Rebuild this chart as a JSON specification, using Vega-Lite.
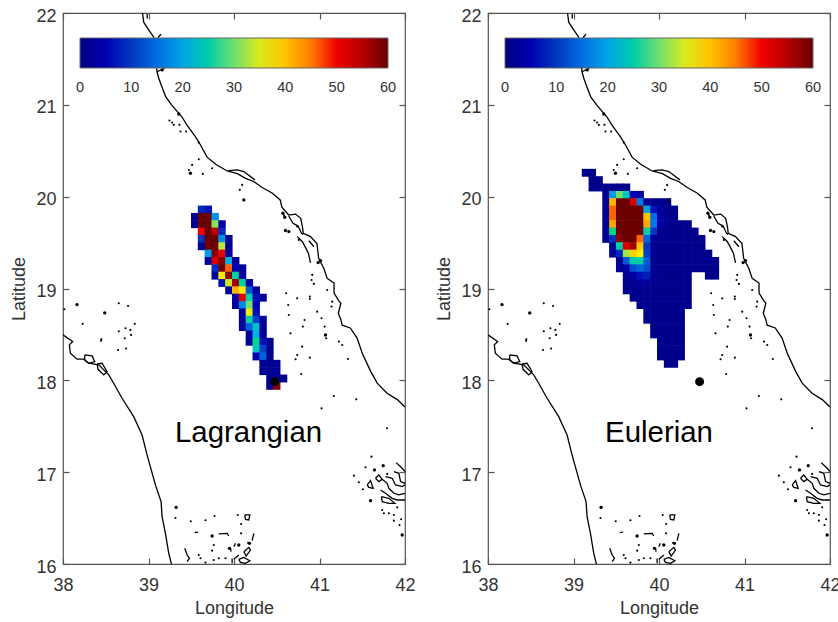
{"$schema":"https://vega.github.io/schema/vega-lite/v6.json","background":"white","padding":{"left":10,"top":6,"right":0,"bottom":0},"bounds":"flush","spacing":83,"config":{"view":{"stroke":"#555555","strokeWidth":1.2},"font":"Liberation Sans"},"resolve":{"scale":{"color":"independent"}},
"datasets":{
"lag":[
{"lon":39.62,"lat":19.86,"v":8},{"lon":39.70,"lat":19.86,"v":6},
{"lon":39.54,"lat":19.78,"v":2},{"lon":39.62,"lat":19.78,"v":60},{"lon":39.70,"lat":19.78,"v":60},{"lon":39.78,"lat":19.78,"v":18},
{"lon":39.54,"lat":19.70,"v":2},{"lon":39.62,"lat":19.70,"v":60},{"lon":39.70,"lat":19.70,"v":60},{"lon":39.78,"lat":19.70,"v":31},{"lon":39.86,"lat":19.70,"v":4},
{"lon":39.62,"lat":19.62,"v":50},{"lon":39.70,"lat":19.62,"v":60},{"lon":39.78,"lat":19.62,"v":55},{"lon":39.86,"lat":19.62,"v":8},
{"lon":39.62,"lat":19.54,"v":9},{"lon":39.70,"lat":19.54,"v":60},{"lon":39.78,"lat":19.54,"v":60},{"lon":39.86,"lat":19.54,"v":18},{"lon":39.94,"lat":19.54,"v":2},
{"lon":39.62,"lat":19.46,"v":3},{"lon":39.70,"lat":19.46,"v":60},{"lon":39.78,"lat":19.46,"v":60},{"lon":39.86,"lat":19.46,"v":33},{"lon":39.94,"lat":19.46,"v":2},
{"lon":39.70,"lat":19.38,"v":19},{"lon":39.78,"lat":19.38,"v":58},{"lon":39.86,"lat":19.38,"v":50},{"lon":39.94,"lat":19.38,"v":3},
{"lon":39.70,"lat":19.30,"v":3},{"lon":39.78,"lat":19.30,"v":52},{"lon":39.86,"lat":19.30,"v":58},{"lon":39.94,"lat":19.30,"v":21},{"lon":40.02,"lat":19.30,"v":3},
{"lon":39.78,"lat":19.22,"v":9},{"lon":39.86,"lat":19.22,"v":60},{"lon":39.94,"lat":19.22,"v":47},{"lon":40.02,"lat":19.22,"v":5},{"lon":40.10,"lat":19.22,"v":3},
{"lon":39.78,"lat":19.14,"v":3},{"lon":39.86,"lat":19.14,"v":37},{"lon":39.94,"lat":19.14,"v":58},{"lon":40.02,"lat":19.14,"v":26},{"lon":40.10,"lat":19.14,"v":3},
{"lon":39.86,"lat":19.06,"v":6},{"lon":39.94,"lat":19.06,"v":34},{"lon":40.02,"lat":19.06,"v":56},{"lon":40.10,"lat":19.06,"v":26},{"lon":40.18,"lat":19.06,"v":3},
{"lon":39.94,"lat":18.98,"v":3},{"lon":40.02,"lat":18.98,"v":41},{"lon":40.10,"lat":18.98,"v":37},{"lon":40.18,"lat":18.98,"v":13},{"lon":40.26,"lat":18.98,"v":3},
{"lon":40.02,"lat":18.90,"v":4},{"lon":40.10,"lat":18.90,"v":51},{"lon":40.18,"lat":18.90,"v":25},{"lon":40.26,"lat":18.90,"v":6},{"lon":40.34,"lat":18.90,"v":3},
{"lon":40.02,"lat":18.82,"v":3},{"lon":40.10,"lat":18.82,"v":17},{"lon":40.18,"lat":18.82,"v":30},{"lon":40.26,"lat":18.82,"v":5},
{"lon":40.10,"lat":18.74,"v":3},{"lon":40.18,"lat":18.74,"v":36},{"lon":40.26,"lat":18.74,"v":6},
{"lon":40.10,"lat":18.66,"v":3},{"lon":40.18,"lat":18.66,"v":25},{"lon":40.26,"lat":18.66,"v":11},{"lon":40.34,"lat":18.66,"v":3},
{"lon":40.10,"lat":18.58,"v":3},{"lon":40.18,"lat":18.58,"v":14},{"lon":40.26,"lat":18.58,"v":23},{"lon":40.34,"lat":18.58,"v":3},
{"lon":40.18,"lat":18.50,"v":3},{"lon":40.26,"lat":18.50,"v":21},{"lon":40.34,"lat":18.50,"v":3},
{"lon":40.18,"lat":18.42,"v":3},{"lon":40.26,"lat":18.42,"v":28},{"lon":40.34,"lat":18.42,"v":6},{"lon":40.42,"lat":18.42,"v":2},
{"lon":40.26,"lat":18.34,"v":24},{"lon":40.34,"lat":18.34,"v":11},{"lon":40.42,"lat":18.34,"v":2},
{"lon":40.26,"lat":18.26,"v":5},{"lon":40.34,"lat":18.26,"v":14},{"lon":40.42,"lat":18.26,"v":2},
{"lon":40.34,"lat":18.18,"v":2},{"lon":40.42,"lat":18.18,"v":2},{"lon":40.50,"lat":18.18,"v":2},
{"lon":40.34,"lat":18.10,"v":2},{"lon":40.42,"lat":18.10,"v":2},{"lon":40.50,"lat":18.10,"v":2},
{"lon":40.42,"lat":18.02,"v":2},{"lon":40.50,"lat":18.02,"v":2},{"lon":40.58,"lat":18.02,"v":2},
{"lon":40.42,"lat":17.94,"v":2},{"lon":40.50,"lat":17.94,"v":58}
],
"eul":[
{"lon":39.14,"lat":20.26,"v":1.5},{"lon":39.22,"lat":20.26,"v":1.5},
{"lon":39.22,"lat":20.18,"v":1.5},{"lon":39.30,"lat":20.18,"v":1.5},
{"lon":39.22,"lat":20.10,"v":1.5},{"lon":39.30,"lat":20.10,"v":1.5},{"lon":39.38,"lat":20.10,"v":1.5},{"lon":39.46,"lat":20.10,"v":1.5},{"lon":39.54,"lat":20.10,"v":1.5},{"lon":39.62,"lat":20.10,"v":1.5},
{"lon":39.38,"lat":20.02,"v":2},{"lon":39.46,"lat":20.02,"v":19},{"lon":39.54,"lat":20.02,"v":30},{"lon":39.62,"lat":20.02,"v":24},{"lon":39.70,"lat":20.02,"v":5},{"lon":39.78,"lat":20.02,"v":3},
{"lon":39.38,"lat":19.94,"v":2},{"lon":39.46,"lat":19.94,"v":41},{"lon":39.54,"lat":19.94,"v":60},{"lon":39.62,"lat":19.94,"v":60},{"lon":39.70,"lat":19.94,"v":52},{"lon":39.78,"lat":19.94,"v":16},{"lon":39.86,"lat":19.94,"v":2},{"lon":39.94,"lat":19.94,"v":1.5},{"lon":40.02,"lat":19.94,"v":1.5},{"lon":40.10,"lat":19.94,"v":1.5},
{"lon":39.38,"lat":19.86,"v":2},{"lon":39.46,"lat":19.86,"v":47},{"lon":39.54,"lat":19.86,"v":60},{"lon":39.62,"lat":19.86,"v":60},{"lon":39.70,"lat":19.86,"v":60},{"lon":39.78,"lat":19.86,"v":60},{"lon":39.86,"lat":19.86,"v":20},{"lon":39.94,"lat":19.86,"v":6},{"lon":40.02,"lat":19.86,"v":3},{"lon":40.10,"lat":19.86,"v":1.5},{"lon":40.18,"lat":19.86,"v":1.5},
{"lon":39.38,"lat":19.78,"v":2},{"lon":39.46,"lat":19.78,"v":47},{"lon":39.54,"lat":19.78,"v":60},{"lon":39.62,"lat":19.78,"v":60},{"lon":39.70,"lat":19.78,"v":60},{"lon":39.78,"lat":19.78,"v":60},{"lon":39.86,"lat":19.78,"v":40},{"lon":39.94,"lat":19.78,"v":15},{"lon":40.02,"lat":19.78,"v":4},{"lon":40.10,"lat":19.78,"v":1.5},{"lon":40.18,"lat":19.78,"v":1.5},
{"lon":39.38,"lat":19.70,"v":2},{"lon":39.46,"lat":19.70,"v":42},{"lon":39.54,"lat":19.70,"v":60},{"lon":39.62,"lat":19.70,"v":60},{"lon":39.70,"lat":19.70,"v":60},{"lon":39.78,"lat":19.70,"v":60},{"lon":39.86,"lat":19.70,"v":42},{"lon":39.94,"lat":19.70,"v":16},{"lon":40.02,"lat":19.70,"v":4},{"lon":40.10,"lat":19.70,"v":1.5},{"lon":40.18,"lat":19.70,"v":1.5},{"lon":40.26,"lat":19.70,"v":1.5},{"lon":40.34,"lat":19.70,"v":1.5},
{"lon":39.38,"lat":19.62,"v":2},{"lon":39.46,"lat":19.62,"v":28},{"lon":39.54,"lat":19.62,"v":60},{"lon":39.62,"lat":19.62,"v":60},{"lon":39.70,"lat":19.62,"v":60},{"lon":39.78,"lat":19.62,"v":60},{"lon":39.86,"lat":19.62,"v":25},{"lon":39.94,"lat":19.62,"v":10},{"lon":40.02,"lat":19.62,"v":2},{"lon":40.10,"lat":19.62,"v":1.5},{"lon":40.18,"lat":19.62,"v":1.5},{"lon":40.26,"lat":19.62,"v":1.5},{"lon":40.34,"lat":19.62,"v":1.5},{"lon":40.42,"lat":19.62,"v":1.5},
{"lon":39.38,"lat":19.54,"v":2},{"lon":39.46,"lat":19.54,"v":9},{"lon":39.54,"lat":19.54,"v":58},{"lon":39.62,"lat":19.54,"v":60},{"lon":39.70,"lat":19.54,"v":60},{"lon":39.78,"lat":19.54,"v":47},{"lon":39.86,"lat":19.54,"v":14},{"lon":39.94,"lat":19.54,"v":3},{"lon":40.02,"lat":19.54,"v":1.5},{"lon":40.10,"lat":19.54,"v":1.5},{"lon":40.18,"lat":19.54,"v":1.5},{"lon":40.26,"lat":19.54,"v":1.5},{"lon":40.34,"lat":19.54,"v":1.5},{"lon":40.42,"lat":19.54,"v":1.5},{"lon":40.50,"lat":19.54,"v":1.5},
{"lon":39.46,"lat":19.46,"v":2},{"lon":39.54,"lat":19.46,"v":25},{"lon":39.62,"lat":19.46,"v":52},{"lon":39.70,"lat":19.46,"v":56},{"lon":39.78,"lat":19.46,"v":40},{"lon":39.86,"lat":19.46,"v":10},{"lon":39.94,"lat":19.46,"v":2},{"lon":40.02,"lat":19.46,"v":1.5},{"lon":40.10,"lat":19.46,"v":1.5},{"lon":40.18,"lat":19.46,"v":1.5},{"lon":40.26,"lat":19.46,"v":1.5},{"lon":40.34,"lat":19.46,"v":1.5},{"lon":40.42,"lat":19.46,"v":1.5},{"lon":40.50,"lat":19.46,"v":1.5},
{"lon":39.46,"lat":19.38,"v":2},{"lon":39.54,"lat":19.38,"v":8},{"lon":39.62,"lat":19.38,"v":32},{"lon":39.70,"lat":19.38,"v":39},{"lon":39.78,"lat":19.38,"v":37},{"lon":39.86,"lat":19.38,"v":11},{"lon":39.94,"lat":19.38,"v":2},{"lon":40.02,"lat":19.38,"v":1.5},{"lon":40.10,"lat":19.38,"v":1.5},{"lon":40.18,"lat":19.38,"v":1.5},{"lon":40.26,"lat":19.38,"v":1.5},{"lon":40.34,"lat":19.38,"v":1.5},{"lon":40.42,"lat":19.38,"v":1.5},{"lon":40.50,"lat":19.38,"v":1.5},{"lon":40.58,"lat":19.38,"v":1.5},
{"lon":39.54,"lat":19.30,"v":2},{"lon":39.62,"lat":19.30,"v":13},{"lon":39.70,"lat":19.30,"v":25},{"lon":39.78,"lat":19.30,"v":25},{"lon":39.86,"lat":19.30,"v":13},{"lon":39.94,"lat":19.30,"v":2},{"lon":40.02,"lat":19.30,"v":1.5},{"lon":40.10,"lat":19.30,"v":1.5},{"lon":40.18,"lat":19.30,"v":1.5},{"lon":40.26,"lat":19.30,"v":1.5},{"lon":40.34,"lat":19.30,"v":1.5},{"lon":40.42,"lat":19.30,"v":1.5},{"lon":40.50,"lat":19.30,"v":1.5},{"lon":40.58,"lat":19.30,"v":1.5},{"lon":40.66,"lat":19.30,"v":1.5},
{"lon":39.54,"lat":19.22,"v":2},{"lon":39.62,"lat":19.22,"v":4},{"lon":39.70,"lat":19.22,"v":12},{"lon":39.78,"lat":19.22,"v":14},{"lon":39.86,"lat":19.22,"v":12},{"lon":39.94,"lat":19.22,"v":2},{"lon":40.02,"lat":19.22,"v":1.5},{"lon":40.10,"lat":19.22,"v":1.5},{"lon":40.18,"lat":19.22,"v":1.5},{"lon":40.26,"lat":19.22,"v":1.5},{"lon":40.34,"lat":19.22,"v":1.5},{"lon":40.42,"lat":19.22,"v":1.5},{"lon":40.50,"lat":19.22,"v":1.5},{"lon":40.58,"lat":19.22,"v":1.5},{"lon":40.66,"lat":19.22,"v":1.5},
{"lon":39.62,"lat":19.14,"v":2},{"lon":39.70,"lat":19.14,"v":4},{"lon":39.78,"lat":19.14,"v":6},{"lon":39.86,"lat":19.14,"v":7},{"lon":39.94,"lat":19.14,"v":2},{"lon":40.02,"lat":19.14,"v":1.5},{"lon":40.10,"lat":19.14,"v":1.5},{"lon":40.18,"lat":19.14,"v":1.5},{"lon":40.26,"lat":19.14,"v":1.5},{"lon":40.34,"lat":19.14,"v":1.5},{"lon":40.58,"lat":19.14,"v":1.5},{"lon":40.66,"lat":19.14,"v":1.5},
{"lon":39.62,"lat":19.06,"v":1.5},{"lon":39.70,"lat":19.06,"v":2},{"lon":39.78,"lat":19.06,"v":3},{"lon":39.86,"lat":19.06,"v":3},{"lon":39.94,"lat":19.06,"v":2},{"lon":40.02,"lat":19.06,"v":1.5},{"lon":40.10,"lat":19.06,"v":1.5},{"lon":40.18,"lat":19.06,"v":1.5},{"lon":40.26,"lat":19.06,"v":1.5},{"lon":40.34,"lat":19.06,"v":1.5},
{"lon":39.62,"lat":18.98,"v":1.5},{"lon":39.70,"lat":18.98,"v":1.5},{"lon":39.78,"lat":18.98,"v":1.5},{"lon":39.86,"lat":18.98,"v":1.5},{"lon":39.94,"lat":18.98,"v":1.5},{"lon":40.02,"lat":18.98,"v":1.5},{"lon":40.10,"lat":18.98,"v":1.5},{"lon":40.18,"lat":18.98,"v":1.5},{"lon":40.26,"lat":18.98,"v":1.5},{"lon":40.34,"lat":18.98,"v":1.5},
{"lon":39.70,"lat":18.90,"v":1.5},{"lon":39.78,"lat":18.90,"v":1.5},{"lon":39.86,"lat":18.90,"v":1.5},{"lon":39.94,"lat":18.90,"v":1.5},{"lon":40.02,"lat":18.90,"v":1.5},{"lon":40.10,"lat":18.90,"v":1.5},{"lon":40.18,"lat":18.90,"v":1.5},{"lon":40.26,"lat":18.90,"v":1.5},{"lon":40.34,"lat":18.90,"v":1.5},
{"lon":39.78,"lat":18.82,"v":1.5},{"lon":39.86,"lat":18.82,"v":1.5},{"lon":39.94,"lat":18.82,"v":1.5},{"lon":40.02,"lat":18.82,"v":1.5},{"lon":40.10,"lat":18.82,"v":1.5},{"lon":40.18,"lat":18.82,"v":1.5},{"lon":40.26,"lat":18.82,"v":1.5},{"lon":40.34,"lat":18.82,"v":1.5},
{"lon":39.86,"lat":18.74,"v":1.5},{"lon":39.94,"lat":18.74,"v":1.5},{"lon":40.02,"lat":18.74,"v":1.5},{"lon":40.10,"lat":18.74,"v":1.5},{"lon":40.18,"lat":18.74,"v":1.5},{"lon":40.26,"lat":18.74,"v":1.5},
{"lon":39.86,"lat":18.66,"v":1.5},{"lon":39.94,"lat":18.66,"v":1.5},{"lon":40.02,"lat":18.66,"v":1.5},{"lon":40.10,"lat":18.66,"v":1.5},{"lon":40.18,"lat":18.66,"v":1.5},{"lon":40.26,"lat":18.66,"v":1.5},
{"lon":39.94,"lat":18.58,"v":1.5},{"lon":40.02,"lat":18.58,"v":1.5},{"lon":40.10,"lat":18.58,"v":1.5},{"lon":40.18,"lat":18.58,"v":1.5},{"lon":40.26,"lat":18.58,"v":1.5},
{"lon":39.94,"lat":18.50,"v":1.5},{"lon":40.02,"lat":18.50,"v":1.5},{"lon":40.10,"lat":18.50,"v":1.5},{"lon":40.18,"lat":18.50,"v":1.5},{"lon":40.26,"lat":18.50,"v":1.5},
{"lon":40.02,"lat":18.42,"v":1.5},{"lon":40.10,"lat":18.42,"v":1.5},{"lon":40.18,"lat":18.42,"v":1.5},{"lon":40.26,"lat":18.42,"v":1.5},
{"lon":40.02,"lat":18.34,"v":1.5},{"lon":40.10,"lat":18.34,"v":1.5},{"lon":40.18,"lat":18.34,"v":1.5},{"lon":40.26,"lat":18.34,"v":1.5},
{"lon":40.02,"lat":18.26,"v":1.5},{"lon":40.10,"lat":18.26,"v":1.5},{"lon":40.18,"lat":18.26,"v":1.5},{"lon":40.26,"lat":18.26,"v":1.5},
{"lon":40.10,"lat":18.18,"v":1.5},{"lon":40.18,"lat":18.18,"v":1.5}
],
"coast":[
{"s":1,"lon":38.93,"lat":22.0},{"s":1,"lon":38.944,"lat":21.90},{"s":1,"lon":39.0,"lat":21.82},{"s":1,"lon":39.06,"lat":21.74},{"s":1,"lon":39.08,"lat":21.54},{"s":1,"lon":39.10,"lat":21.36},{"s":1,"lon":39.12,"lat":21.29},{"s":1,"lon":39.155,"lat":21.20},{"s":1,"lon":39.20,"lat":21.09},{"s":1,"lon":39.27,"lat":21.0},{"s":1,"lon":39.39,"lat":20.87},{"s":1,"lon":39.45,"lat":20.78},{"s":1,"lon":39.55,"lat":20.65},{"s":1,"lon":39.61,"lat":20.56},{"s":1,"lon":39.685,"lat":20.43},{"s":1,"lon":39.79,"lat":20.35},{"s":1,"lon":39.92,"lat":20.28},{"s":1,"lon":40.04,"lat":20.25},{"s":1,"lon":40.135,"lat":20.20},{"s":1,"lon":40.23,"lat":20.165},{"s":1,"lon":40.33,"lat":20.10},{"s":1,"lon":40.445,"lat":20.04},{"s":1,"lon":40.54,"lat":19.965},{"s":1,"lon":40.56,"lat":19.885},{"s":1,"lon":40.64,"lat":19.80},{"s":1,"lon":40.72,"lat":19.81},{"s":1,"lon":40.78,"lat":19.765},{"s":1,"lon":40.80,"lat":19.675},{"s":1,"lon":40.81,"lat":19.60},{"s":1,"lon":40.895,"lat":19.565},{"s":1,"lon":40.97,"lat":19.49},{"s":1,"lon":40.99,"lat":19.33},{"s":1,"lon":41.05,"lat":19.22},{"s":1,"lon":41.09,"lat":19.11},{"s":1,"lon":41.17,"lat":19.06},{"s":1,"lon":41.17,"lat":18.95},{"s":1,"lon":41.23,"lat":18.86},{"s":1,"lon":41.25,"lat":18.84},{"s":1,"lon":41.22,"lat":18.73},{"s":1,"lon":41.25,"lat":18.66},{"s":1,"lon":41.265,"lat":18.60},{"s":1,"lon":41.36,"lat":18.57},{"s":1,"lon":41.44,"lat":18.46},{"s":1,"lon":41.50,"lat":18.295},{"s":1,"lon":41.60,"lat":18.095},{"s":1,"lon":41.675,"lat":17.97},{"s":1,"lon":41.79,"lat":17.86},{"s":1,"lon":41.91,"lat":17.79},{"s":1,"lon":42.0,"lat":17.71},
{"s":2,"lon":40.64,"lat":19.79},{"s":2,"lon":40.69,"lat":19.71},{"s":2,"lon":40.75,"lat":19.68},{"s":2,"lon":40.79,"lat":19.60},{"s":2,"lon":40.81,"lat":19.59},
{"s":3,"lon":40.74,"lat":19.565},{"s":3,"lon":40.80,"lat":19.51},{"s":3,"lon":40.84,"lat":19.44},{"s":3,"lon":40.87,"lat":19.385},{"s":3,"lon":40.895,"lat":19.28},
{"s":4,"lon":40.875,"lat":19.52},{"s":4,"lon":40.935,"lat":19.455},
{"s":5,"lon":38.985,"lat":21.99},{"s":5,"lon":38.985,"lat":21.94},
{"s":6,"lon":39.147,"lat":21.77},{"s":6,"lon":39.11,"lat":21.73},
{"s":7,"lon":39.10,"lat":21.36},{"s":7,"lon":39.187,"lat":21.40},
{"s":8,"lon":39.935,"lat":20.284},{"s":8,"lon":40.037,"lat":20.291},{"s":8,"lon":40.115,"lat":20.273},{"s":8,"lon":40.244,"lat":20.183},
{"s":9,"lon":38.0,"lat":18.495},{"s":9,"lon":38.113,"lat":18.422},{"s":9,"lon":38.074,"lat":18.386},{"s":9,"lon":38.086,"lat":18.295},{"s":9,"lon":38.164,"lat":18.23},{"s":9,"lon":38.242,"lat":18.23},{"s":9,"lon":38.301,"lat":18.186},{"s":9,"lon":38.418,"lat":18.168},{"s":9,"lon":38.535,"lat":18.059},{"s":9,"lon":38.593,"lat":17.968},{"s":9,"lon":38.691,"lat":17.805},{"s":9,"lon":38.827,"lat":17.605},{"s":9,"lon":38.925,"lat":17.405},{"s":9,"lon":38.983,"lat":17.188},{"s":9,"lon":39.081,"lat":16.861},{"s":9,"lon":39.147,"lat":16.679},{"s":9,"lon":39.159,"lat":16.516},{"s":9,"lon":39.198,"lat":16.334},{"s":9,"lon":39.237,"lat":16.116},{"s":9,"lon":39.268,"lat":16.0},
{"s":10,"lon":38.254,"lat":18.277},{"s":10,"lon":38.34,"lat":18.266},{"s":10,"lon":38.371,"lat":18.204},{"s":10,"lon":38.301,"lat":18.186},{"s":10,"lon":38.254,"lat":18.222},{"s":10,"lon":38.254,"lat":18.277},
{"s":11,"lon":38.399,"lat":18.179},{"s":11,"lon":38.457,"lat":18.186},{"s":11,"lon":38.516,"lat":18.095},{"s":11,"lon":38.477,"lat":18.059},{"s":11,"lon":38.41,"lat":18.12},{"s":11,"lon":38.399,"lat":18.179},
{"s":12,"lon":39.424,"lat":16.171},{"s":12,"lon":39.452,"lat":16.098},{"s":12,"lon":39.479,"lat":16.062},{"s":12,"lon":39.452,"lat":16.026},
{"s":13,"lon":40.115,"lat":16.134},{"s":13,"lon":40.173,"lat":16.181},{"s":13,"lon":40.193,"lat":16.152},{"s":13,"lon":40.142,"lat":16.087},{"s":13,"lon":40.115,"lat":16.134},
{"s":14,"lon":40.056,"lat":16.051},{"s":14,"lon":40.115,"lat":16.072},{"s":14,"lon":40.185,"lat":16.036},{"s":14,"lon":40.134,"lat":16.007},{"s":14,"lon":40.076,"lat":16.018},{"s":14,"lon":40.056,"lat":16.051},
{"s":15,"lon":39.978,"lat":16.061},{"s":15,"lon":39.978,"lat":16.007},
{"s":16,"lon":39.998,"lat":16.051},{"s":16,"lon":40.056,"lat":16.098},
{"s":17,"lon":39.998,"lat":16.189},{"s":17,"lon":40.017,"lat":16.225},
{"s":18,"lon":39.959,"lat":16.17},{"s":18,"lon":39.966,"lat":16.134},
{"s":19,"lon":40.212,"lat":16.254},{"s":19,"lon":40.232,"lat":16.334},
{"s":20,"lon":40.126,"lat":16.534},{"s":20,"lon":40.185,"lat":16.534},{"s":20,"lon":40.173,"lat":16.479},{"s":20,"lon":40.134,"lat":16.486},{"s":20,"lon":40.126,"lat":16.534},
{"s":21,"lon":39.822,"lat":16.327},{"s":21,"lon":39.92,"lat":16.334},{"s":21,"lon":39.939,"lat":16.305},
{"s":22,"lon":39.541,"lat":16.341},{"s":22,"lon":39.58,"lat":16.348},
{"s":23,"lon":41.655,"lat":16.933},{"s":23,"lon":41.694,"lat":16.97},{"s":23,"lon":41.733,"lat":16.922},{"s":23,"lon":41.694,"lat":16.897},{"s":23,"lon":41.655,"lat":16.933},
{"s":24,"lon":41.733,"lat":16.922},{"s":24,"lon":41.792,"lat":16.879},{"s":24,"lon":41.811,"lat":16.824},{"s":24,"lon":41.87,"lat":16.77},{"s":24,"lon":41.928,"lat":16.752},{"s":24,"lon":42.0,"lat":16.77},
{"s":25,"lon":41.772,"lat":16.952},{"s":25,"lon":41.85,"lat":16.933},{"s":25,"lon":41.889,"lat":16.861},{"s":25,"lon":41.967,"lat":16.843},{"s":25,"lon":42.0,"lat":16.861},
{"s":26,"lon":41.87,"lat":17.006},{"s":26,"lon":41.928,"lat":16.988},{"s":26,"lon":41.948,"lat":16.897},{"s":26,"lon":42.0,"lat":16.879},
{"s":27,"lon":41.897,"lat":17.104},{"s":27,"lon":41.967,"lat":17.042},{"s":27,"lon":42.0,"lat":17.006},
{"s":28,"lon":41.714,"lat":16.806},{"s":28,"lon":41.772,"lat":16.77},{"s":28,"lon":41.85,"lat":16.715},{"s":28,"lon":41.909,"lat":16.697},{"s":28,"lon":42.0,"lat":16.697},
{"s":29,"lon":41.725,"lat":16.734},{"s":29,"lon":41.811,"lat":16.715},{"s":29,"lon":41.881,"lat":16.661},{"s":29,"lon":41.811,"lat":16.661},{"s":29,"lon":41.733,"lat":16.679},{"s":29,"lon":41.725,"lat":16.734},
{"s":30,"lon":41.558,"lat":16.861},{"s":30,"lon":41.597,"lat":16.908},{"s":30,"lon":41.628,"lat":16.824},{"s":30,"lon":41.577,"lat":16.835},{"s":30,"lon":41.558,"lat":16.861}
],
"specks":[
{"lon":39.245,"lat":20.829},{"lon":39.276,"lat":20.807},{"lon":39.296,"lat":20.782},{"lon":39.362,"lat":20.782},{"lon":39.374,"lat":20.709},{"lon":39.44,"lat":20.709},{"lon":39.588,"lat":20.589},{"lon":39.51,"lat":20.346},{"lon":39.588,"lat":20.408},{"lon":39.744,"lat":20.31},{"lon":39.471,"lat":20.291},{"lon":39.49,"lat":20.255},{"lon":39.635,"lat":20.248},{"lon":40.068,"lat":20.074},{"lon":40.095,"lat":20.128},{"lon":40.115,"lat":19.965},{"lon":40.602,"lat":19.638},{"lon":40.758,"lat":19.529},{"lon":40.739,"lat":19.674},{"lon":40.583,"lat":19.801},{"lon":40.915,"lat":19.148},{"lon":40.907,"lat":19.093},{"lon":40.934,"lat":19.05},{"lon":40.61,"lat":18.948},{"lon":40.739,"lat":18.893},{"lon":40.887,"lat":18.912},{"lon":40.887,"lat":18.886},{"lon":41.09,"lat":18.984},{"lon":41.149,"lat":18.857},{"lon":41.141,"lat":18.803},{"lon":40.641,"lat":18.712},{"lon":40.634,"lat":18.821},{"lon":40.973,"lat":18.748},{"lon":41.024,"lat":18.676},{"lon":40.825,"lat":18.657},{"lon":40.805,"lat":18.585},{"lon":41.059,"lat":18.585},{"lon":41.07,"lat":18.494},{"lon":41.078,"lat":18.458},{"lon":40.661,"lat":18.512},{"lon":40.797,"lat":18.367},{"lon":41.227,"lat":18.422},{"lon":41.266,"lat":18.385},{"lon":40.739,"lat":18.276},{"lon":40.72,"lat":18.229},{"lon":40.887,"lat":18.247},{"lon":41.332,"lat":18.233},{"lon":40.786,"lat":18.069},{"lon":41.168,"lat":17.83},{"lon":41.43,"lat":17.793},{"lon":41.024,"lat":17.695},
{"lon":38.016,"lat":18.774},{"lon":38.652,"lat":18.84},{"lon":38.761,"lat":18.81},{"lon":38.23,"lat":18.615},{"lon":38.839,"lat":18.615},{"lon":38.652,"lat":18.535},{"lon":38.73,"lat":18.567},{"lon":38.788,"lat":18.549},{"lon":38.796,"lat":18.495},{"lon":38.722,"lat":18.458},{"lon":38.449,"lat":18.448},{"lon":38.445,"lat":18.43},{"lon":38.644,"lat":18.331},{"lon":38.738,"lat":18.346},
{"lon":39.315,"lat":16.501},{"lon":39.494,"lat":16.465},{"lon":39.666,"lat":16.476},{"lon":39.772,"lat":16.523},{"lon":40.044,"lat":16.534},{"lon":40.083,"lat":16.436},{"lon":40.083,"lat":16.334},{"lon":39.764,"lat":16.207},{"lon":39.744,"lat":16.145},{"lon":39.822,"lat":16.062},{"lon":39.588,"lat":16.098},{"lon":39.608,"lat":16.062},{"lon":39.666,"lat":16.015},{"lon":39.764,"lat":16.044},{"lon":39.90,"lat":16.062},{"lon":40.165,"lat":16.232},
{"lon":41.608,"lat":17.169},{"lon":41.402,"lat":16.962},{"lon":41.46,"lat":16.89},{"lon":41.538,"lat":17.053},{"lon":41.792,"lat":16.981},{"lon":41.507,"lat":16.814},{"lon":41.733,"lat":16.588},{"lon":41.753,"lat":16.552},{"lon":41.811,"lat":16.552},{"lon":41.87,"lat":16.534},{"lon":41.87,"lat":16.472},{"lon":41.955,"lat":16.487},{"lon":41.936,"lat":16.425},{"lon":41.909,"lat":16.617},{"lon":41.79,"lat":17.478}
],
"blobs":[
{"lon":38.164,"lat":18.825},{"lon":38.488,"lat":18.734},{"lon":39.323,"lat":16.617},{"lon":39.744,"lat":16.305},{"lon":39.947,"lat":16.171},{"lon":40.056,"lat":16.207},{"lon":40.181,"lat":16.225},{"lon":41.643,"lat":17.024},{"lon":41.745,"lat":17.071},{"lon":41.597,"lat":16.69},{"lon":41.967,"lat":16.316},{"lon":39.354,"lat":20.90},{"lon":39.16,"lat":21.38},{"lon":40.602,"lat":19.631},{"lon":40.641,"lat":19.62},{"lon":40.571,"lat":19.82},{"lon":40.594,"lat":19.776},{"lon":40.984,"lat":19.282},{"lon":41.012,"lat":19.304},{"lon":40.115,"lat":19.965},{"lon":39.49,"lat":20.255},{"lon":41.07,"lat":18.494}
]
},
"hconcat":[
{"width":342,"height":551,"resolve":{"axis":{"x":"independent","y":"independent"}},
"layer":[
{"data":{"name":"lag"},"mark":{"type":"rect","width":7.4,"height":7.9},"encoding":{
"x":{"field":"lon","type":"quantitative","scale":{"domain":[38,42],"nice":false,"zero":false},"axis":{"orient":"bottom","offset":-6,"values":[38,39,40,41,42],"format":"d","title":"Longitude","titleFontSize":18,"titleFontWeight":"normal","titleColor":"#333333","titlePadding":5,"labelFontSize":18,"labelColor":"#333333","ticks":true,"tickWidth":1.2,"tickSize":6,"tickColor":"#555555","labelPadding":12,"domain":false,"grid":false,"labelFlush":false}},
"y":{"field":"lat","type":"quantitative","scale":{"domain":[16,22],"nice":false,"zero":false},"axis":{"orient":"left","offset":-6,"values":[16,17,18,19,20,21,22],"format":"d","title":"Latitude","titleFontSize":18,"titleFontWeight":"normal","titleColor":"#333333","titlePadding":7,"labelFontSize":18,"labelColor":"#333333","ticks":true,"tickWidth":1.2,"tickSize":6,"tickColor":"#555555","labelPadding":7,"labelOffset":3,"domain":false,"grid":false,"labelFlush":false}},
"color":{"field":"v","type":"quantitative","scale":{"domain":[0,5,10,15,20,25,28,30,33,37,40,45,49.5,50,55,60],"range":["#00007f","#0000b0","#0038c0","#006ee0","#00a5e6","#00cdaa","#00d787","#6ee16e","#b9e632","#ffeb00","#ffc300","#ff7d00","#ff3c00","#f00000","#b40000","#6a0000"]},"legend":{"orient":"none","legendX":17,"legendY":25,"direction":"horizontal","title":null,"gradientLength":308,"gradientThickness":30,"gradientStrokeColor":"#666666","gradientStrokeWidth":1,"values":[0,10,20,30,40,50,60],"labelFontSize":14.5,"labelColor":"#333333","labelOffset":13,"labelOverlap":false,"encode":{"labels":{"update":{"align":{"value":"center"}}}}}}
}},
{"data":{"name":"coast"},"mark":{"type":"line","order":false,"clip":true,"color":"black","strokeWidth":1.3},"encoding":{"x":{"field":"lon","type":"quantitative","axis":null},"y":{"field":"lat","type":"quantitative","axis":null},"detail":{"field":"s"}}},
{"data":{"name":"specks"},"mark":{"type":"circle","size":4.5,"color":"black","opacity":1,"clip":true},"encoding":{"x":{"field":"lon","type":"quantitative","axis":null},"y":{"field":"lat","type":"quantitative","axis":null}}},
{"data":{"name":"blobs"},"mark":{"type":"circle","size":11,"color":"black","opacity":1,"clip":true},"encoding":{"x":{"field":"lon","type":"quantitative","axis":null},"y":{"field":"lat","type":"quantitative","axis":null}}},
{"data":{"values":[{"lon":40.476,"lat":17.985}]},"mark":{"type":"circle","size":80,"color":"black","opacity":1},"encoding":{"x":{"field":"lon","type":"quantitative","axis":null},"y":{"field":"lat","type":"quantitative","axis":null}}},
{"data":{"values":[{"lon":40.17,"lat":17.43,"t":"Lagrangian"}]},"mark":{"type":"text","fontSize":29.4,"color":"black","align":"center","baseline":"middle"},"encoding":{"text":{"field":"t"},"x":{"field":"lon","type":"quantitative","axis":{"orient":"top","offset":-6,"values":[38,39,40,41,42],"labels":false,"title":null,"ticks":true,"tickWidth":1.2,"tickSize":6,"tickColor":"#555555","domain":false,"grid":false}},"y":{"field":"lat","type":"quantitative","axis":{"orient":"right","offset":-6,"values":[16,17,18,19,20,21,22],"labels":false,"title":null,"ticks":true,"tickWidth":1.2,"tickSize":6,"tickColor":"#555555","domain":false,"grid":false}}}}
]},
{"width":342,"height":551,"resolve":{"axis":{"x":"independent","y":"independent"}},
"layer":[
{"data":{"name":"eul"},"mark":{"type":"rect","width":7.4,"height":7.9},"encoding":{
"x":{"field":"lon","type":"quantitative","scale":{"domain":[38,42],"nice":false,"zero":false},"axis":{"orient":"bottom","offset":-6,"values":[38,39,40,41,42],"format":"d","title":"Longitude","titleFontSize":18,"titleFontWeight":"normal","titleColor":"#333333","titlePadding":5,"labelFontSize":18,"labelColor":"#333333","ticks":true,"tickWidth":1.2,"tickSize":6,"tickColor":"#555555","labelPadding":12,"domain":false,"grid":false,"labelFlush":false}},
"y":{"field":"lat","type":"quantitative","scale":{"domain":[16,22],"nice":false,"zero":false},"axis":{"orient":"left","offset":-6,"values":[16,17,18,19,20,21,22],"format":"d","title":"Latitude","titleFontSize":18,"titleFontWeight":"normal","titleColor":"#333333","titlePadding":7,"labelFontSize":18,"labelColor":"#333333","ticks":true,"tickWidth":1.2,"tickSize":6,"tickColor":"#555555","labelPadding":7,"labelOffset":3,"domain":false,"grid":false,"labelFlush":false}},
"color":{"field":"v","type":"quantitative","scale":{"domain":[0,5,10,15,20,25,28,30,33,37,40,45,49.5,50,55,60],"range":["#00007f","#0000b0","#0038c0","#006ee0","#00a5e6","#00cdaa","#00d787","#6ee16e","#b9e632","#ffeb00","#ffc300","#ff7d00","#ff3c00","#f00000","#b40000","#6a0000"]},"legend":{"orient":"none","legendX":17,"legendY":25,"direction":"horizontal","title":null,"gradientLength":308,"gradientThickness":30,"gradientStrokeColor":"#666666","gradientStrokeWidth":1,"values":[0,10,20,30,40,50,60],"labelFontSize":14.5,"labelColor":"#333333","labelOffset":13,"labelOverlap":false,"encode":{"labels":{"update":{"align":{"value":"center"}}}}}}
}},
{"data":{"name":"coast"},"mark":{"type":"line","order":false,"clip":true,"color":"black","strokeWidth":1.3},"encoding":{"x":{"field":"lon","type":"quantitative","axis":null},"y":{"field":"lat","type":"quantitative","axis":null},"detail":{"field":"s"}}},
{"data":{"name":"specks"},"mark":{"type":"circle","size":4.5,"color":"black","opacity":1,"clip":true},"encoding":{"x":{"field":"lon","type":"quantitative","axis":null},"y":{"field":"lat","type":"quantitative","axis":null}}},
{"data":{"name":"blobs"},"mark":{"type":"circle","size":11,"color":"black","opacity":1,"clip":true},"encoding":{"x":{"field":"lon","type":"quantitative","axis":null},"y":{"field":"lat","type":"quantitative","axis":null}}},
{"data":{"values":[{"lon":40.475,"lat":17.985}]},"mark":{"type":"circle","size":80,"color":"black","opacity":1},"encoding":{"x":{"field":"lon","type":"quantitative","axis":null},"y":{"field":"lat","type":"quantitative","axis":null}}},
{"data":{"values":[{"lon":40.0,"lat":17.43,"t":"Eulerian"}]},"mark":{"type":"text","fontSize":29.4,"color":"black","align":"center","baseline":"middle"},"encoding":{"text":{"field":"t"},"x":{"field":"lon","type":"quantitative","axis":{"orient":"top","offset":-6,"values":[38,39,40,41,42],"labels":false,"title":null,"ticks":true,"tickWidth":1.2,"tickSize":6,"tickColor":"#555555","domain":false,"grid":false}},"y":{"field":"lat","type":"quantitative","axis":{"orient":"right","offset":-6,"values":[16,17,18,19,20,21,22],"labels":false,"title":null,"ticks":true,"tickWidth":1.2,"tickSize":6,"tickColor":"#555555","domain":false,"grid":false}}}}
]}
]}
